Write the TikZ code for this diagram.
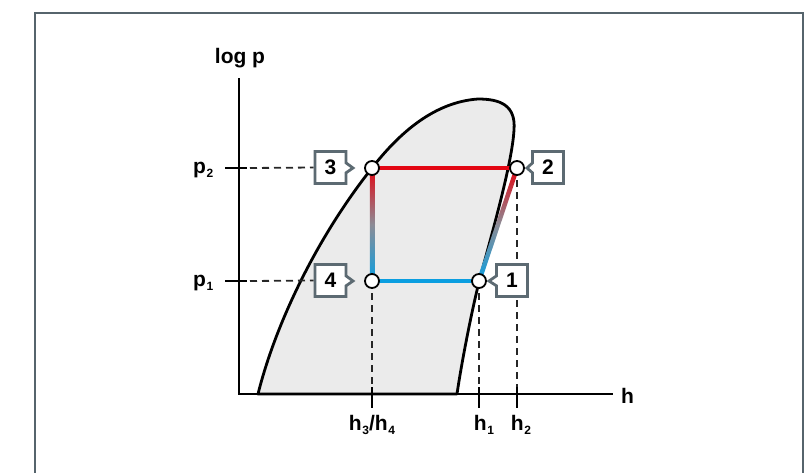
\documentclass[tikz,border=0pt]{standalone}
\usepackage{fontspec}
\setmainfont{Liberation Sans}
\usetikzlibrary{shapes.callouts,backgrounds}
\definecolor{cred}{RGB}{227,6,19}
\definecolor{cblue}{RGB}{10,158,224}
\definecolor{cframe}{RGB}{86,100,108}
\definecolor{cbox}{RGB}{92,106,114}
\definecolor{cdome}{RGB}{235,235,235}
\definecolor{cmid}{RGB}{140,140,150}
\newcommand\lsub[1]{\kern0.6pt\raisebox{-4pt}{\fontsize{12}{12}\selectfont #1}}
\begin{document}
\begin{tikzpicture}[x=1pt,y=-1pt,
  lbl/.style={font=\fontsize{21}{21}\selectfont\bfseries, inner sep=0, anchor=base},
  statept/.style={circle, draw=black, fill=white, line width=1.8pt, minimum size=14pt, inner sep=0},
  numbox/.style={rectangle callout, draw=cbox, fill=white, line width=2.8pt, minimum width=31pt, minimum height=32pt, inner sep=0, callout pointer width=10pt, font=\fontsize{21}{21}\selectfont\bfseries},
  axisline/.style={line width=2.8pt, black, line cap=butt},
  guide/.style={line width=1.8pt, black!85, dash pattern=on 7pt off 5pt},
  tickmark/.style={line width=2.5pt, black},
  cycleline/.style={line width=4.5pt}
]
\useasboundingbox (0,0) rectangle (807,472);
% state coordinates
\coordinate (c1) at (479,281);
\coordinate (c2) at (517,168);
\coordinate (c3) at (372,168);
\coordinate (c4) at (372,281);
\coordinate (t1) at (479,387);
\coordinate (t2) at (517,387);
\coordinate (t4) at (372,387);
\coordinate (yp2) at (250,168);
\coordinate (yp1) at (250,281);
% boxes
\node[numbox, callout absolute pointer={(353,168)}] (b3) at (330.5,167.5) {3};
\node[numbox, callout absolute pointer={(353,281)}] (b4) at (330.5,280.5) {4};
\node[numbox, callout absolute pointer={(527,168)}] (b2) at (548,167.5) {2};
\node[numbox, callout absolute pointer={(489,281)}] (b1) at (512,280.5) {1};
\begin{scope}[on background layer]
% frame
\draw[cframe, line width=2.5pt] (35,480) -- (35,13) -- (803,13) -- (803,480);
% saturation dome
\filldraw[fill=cdome, draw=black, line width=2.8pt, line join=round]
  (258,394) .. controls (276,322) and (318,236) .. (372,168)
  .. controls (400,132) and (435,102) .. (478,99)
  .. controls (500,99) and (516,105) .. (514,130)
  .. controls (512,165) and (490,240) .. (479,282)
  .. controls (472,310) and (462,360) .. (457,394) -- cycle;
% guides
\draw[guide] (yp2) -- (b3.west);
\draw[guide] (yp1) -- (b4.west);
\draw[guide] (c4) -- (t4);
\draw[guide] (c1) -- (t1);
\draw[guide] (c2) -- (t2);
\end{scope}
% ticks
\draw[tickmark] (225,168) -- (247,168);
\draw[tickmark] (225,281) -- (247,281);
\draw[tickmark] (372,387) -- (372,408);
\draw[tickmark] (479,387) -- (479,408);
\draw[tickmark] (517,387) -- (517,408);
% axes
\coordinate (O) at (239,394);
\coordinate (ytop) at (239,78);
\coordinate (xend) at (613,394);
\draw[axisline] (ytop) -- (O) -- (xend);
% cycle lines
\draw[cycleline, cred] (c3) -- (c2);
\draw[cycleline, cblue] (c4) -- (c1);
\shade[top color=cred, bottom color=cblue, middle color=cmid] (369.75,168) rectangle (374.25,281);
\shade[top color=cred, bottom color=cblue, middle color=cmid] (476.6,281) -- (481.4,281) -- (519.4,168) -- (514.6,168) -- cycle;
% state points
\node[statept] (p1) at (c1) {};
\node[statept] (p2) at (c2) {};
\node[statept] (p3) at (c3) {};
\node[statept] (p4) at (c4) {};
% labels
\node[lbl] (logp) at (240,63) {log p};
\node[lbl, anchor=base west] (hlab) at (621,403) {h};
\node[lbl, anchor=base west] (lp2) at (193,173) {p\lsub{2}};
\node[lbl, anchor=base west] (lp1) at (193,286) {p\lsub{1}};
\node[lbl] (lh34) at (372,430) {h\lsub{3}/h\lsub{4}};
\node[lbl] (lh1) at (484,430) {h\lsub{1}};
\node[lbl] (lh2) at (521,430) {h\lsub{2}};
\end{tikzpicture}
\end{document}
